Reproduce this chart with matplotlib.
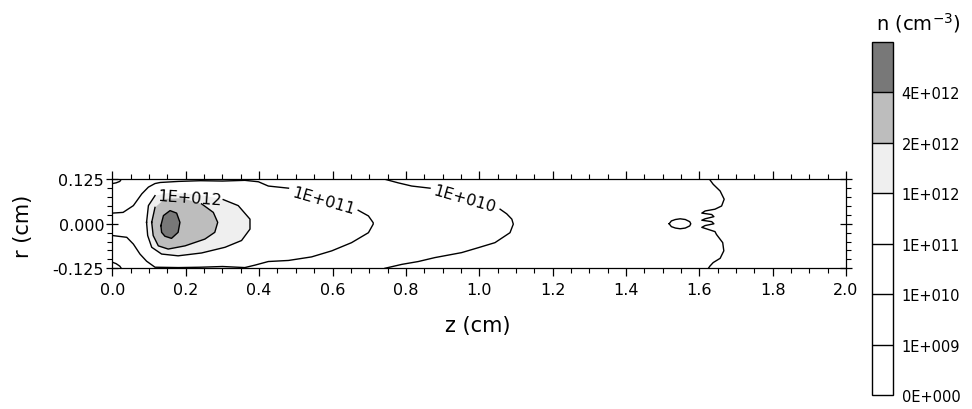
import numpy as np
import matplotlib
matplotlib.use('Agg')
import matplotlib.pyplot as plt
from matplotlib.colors import ListedColormap, BoundaryNorm
from matplotlib.cm import ScalarMappable
from matplotlib.ticker import MultipleLocator, FormatStrFormatter

plt.rcParams['font.family'] = 'DejaVu Sans'
plt.rcParams['axes.unicode_minus'] = False

# Contour lines (z in cm, r in cm)
# 4E+012 core
core_z = [0.132, 0.139, 0.157, 0.175, 0.184, 0.179, 0.161, 0.143, 0.134, 0.132]
core_r = [-0.005, 0.023, 0.037, 0.030, 0.004, -0.024, -0.041, -0.035, -0.024, -0.005]
# 2E+012
c2e12_z = [0.107, 0.116, 0.143, 0.190, 0.243, 0.275, 0.287, 0.279, 0.252,
           0.198, 0.152, 0.125, 0.111, 0.107]
c2e12_r = [0.004, 0.046, 0.070, 0.072, 0.056, 0.032, 0.004, -0.024, -0.043,
           -0.062, -0.071, -0.062, -0.033, 0.004]
# 1E+012
c1e12_z = [0.093, 0.098, 0.116, 0.150, 0.200, 0.250, 0.302, 0.343, 0.375,
           0.375, 0.352, 0.307, 0.243, 0.179, 0.134, 0.107, 0.096, 0.093]
c1e12_r = [0.004, 0.051, 0.079, 0.086, 0.085, 0.079, 0.068, 0.051, 0.013,
           -0.015, -0.047, -0.066, -0.082, -0.090, -0.085, -0.066, -0.033, 0.004]
# 1E+011 (open, nan = label gap)
c1e11_z = [0.0, 0.029, 0.057, 0.080, 0.098, 0.116, 0.130, 0.180, 0.240, 0.300,
           0.361, 0.398, 0.425, 0.480, np.nan, 0.670, 0.698, 0.711, 0.711, 0.698,
           0.652, 0.598, 0.543, 0.480, 0.425, 0.389, 0.361, 0.300, 0.240, 0.180,
           0.116, 0.093, 0.075, 0.057, 0.039, 0.0]
c1e11_r = [0.030, 0.032, 0.051, 0.084, 0.103, 0.113, 0.116, 0.119, 0.121, 0.120,
           0.122, 0.118, 0.106, 0.100, np.nan, 0.038, 0.022, 0.003, -0.001, -0.025,
           -0.053, -0.076, -0.093, -0.103, -0.106, -0.116, -0.123, -0.120, -0.122,
           -0.123, -0.122, -0.105, -0.085, -0.057, -0.038, -0.033]
# 1E+010 (open) plus the two corner arcs
c1e10_z = [0.743, 0.779, 0.816, 0.866, np.nan, 1.057, 1.075, 1.089, 1.093, 1.084,
           1.043, 0.998, 0.952, 0.879, 0.834, 0.789, 0.743, np.nan,
           0.0, 0.010, 0.020, 0.024, np.nan, 0.0, 0.010, 0.020, 0.024]
c1e10_r = [0.125, 0.115, 0.106, 0.100, np.nan, 0.041, 0.028, 0.013, -0.001, -0.025,
           -0.053, -0.067, -0.081, -0.095, -0.106, -0.114, -0.125, np.nan,
           0.113, 0.115, 0.119, 0.125, np.nan, -0.108, -0.112, -0.119, -0.125]
# wavy line near z = 1.63
wave_z = [1.628, 1.638, 1.657, 1.668, 1.661, 1.643, 1.616, 1.607, 1.634, 1.640,
          1.616, 1.607, 1.634, 1.640, 1.616, 1.607, 1.625, 1.643, 1.647, 1.664,
          1.667, 1.657, 1.638, 1.629, 1.625]
wave_r = [0.125, 0.111, 0.092, 0.069, 0.050, 0.041, 0.036, 0.030, 0.026, 0.020,
          0.014, 0.010, 0.006, 0.000, -0.005, -0.010, -0.016, -0.022, -0.030, -0.053,
          -0.076, -0.097, -0.109, -0.119, -0.125]
# small closed loop near z = 1.55
blob_z = [1.518, 1.524, 1.535, 1.548, 1.562, 1.574, 1.577, 1.574, 1.562, 1.548,
          1.535, 1.524, 1.518]
blob_r = [0.0, 0.008, 0.012, 0.014, 0.012, 0.006, 0.0, -0.006, -0.012, -0.014,
          -0.012, -0.008, 0.0]

# contour labels: text, z, r, angle
label_text = ['1E+012', '1E+011', '1E+010']
label_z = [0.211, 0.576, 0.961]
label_r = [0.072, 0.066, 0.072]
label_rot = [-4, -16, -16]

# colour scale
levels = [0, 1e9, 1e10, 1e11, 1e12, 2e12, 4e12, 8e12]
level_labels = ['0E+000', '1E+009', '1E+010', '1E+011', '1E+012', '2E+012', '4E+012']
band_colors = ['white', 'white', 'white', 'white', '#efefef', '#bdbdbd', '#787878']


def hide_under_label(z, r, z0, z1, rmin):
    z = np.array(z, dtype=float)
    r = np.array(r, dtype=float)
    mask = (z > z0) & (z < z1) & (r > rmin)
    r[mask] = np.nan
    return z, r


fig = plt.figure(figsize=(9.72, 4.10), dpi=100)
ax = fig.add_axes([0.1157, 0.3432, 0.7546, 0.2171])

# filled bands
ax.fill(c1e12_z, c1e12_r, color=band_colors[4], lw=0, zorder=1)
ax.fill(c2e12_z, c2e12_r, color=band_colors[5], lw=0, zorder=1)
ax.fill(core_z, core_r, color=band_colors[6], lw=0, zorder=1)

lw = 1.0
z, r = hide_under_label(c1e12_z, c1e12_r, 0.118, 0.30, 0.03)
ax.plot(z, r, color='black', lw=lw, zorder=2)
z, r = hide_under_label(c2e12_z, c2e12_r, 0.125, 0.235, 0.05)
ax.plot(z, r, color='black', lw=lw, zorder=2)
ax.plot(core_z, core_r, color='black', lw=lw, zorder=2)
ax.plot(c1e11_z, c1e11_r, color='black', lw=lw, zorder=2)
ax.plot(c1e10_z, c1e10_r, color='black', lw=lw, zorder=2)
ax.plot(wave_z, wave_r, color='black', lw=lw, zorder=2)
ax.plot(blob_z, blob_r, color='black', lw=lw, zorder=2)

for txt, lz, lr, rot in zip(label_text, label_z, label_r, label_rot):
    ax.text(lz, lr, txt, fontsize=11.5, rotation=rot, ha='center', va='center',
            rotation_mode='anchor', zorder=3)

ax.set_xlim(0, 2.0)
ax.set_ylim(-0.125, 0.125)
ax.xaxis.set_major_locator(MultipleLocator(0.2))
ax.xaxis.set_minor_locator(MultipleLocator(0.05))
ax.xaxis.set_major_formatter(FormatStrFormatter('%.1f'))
ax.set_yticks([-0.125, 0.0, 0.125])
ax.yaxis.set_minor_locator(MultipleLocator(0.025))
ax.yaxis.set_major_formatter(FormatStrFormatter('%.3f'))
ax.tick_params(axis='x', which='major', direction='out', length=6, width=0.9,
               top=True, labelsize=11.5, pad=4)
ax.tick_params(axis='x', which='minor', direction='out', length=3.5, width=0.8, top=True)
ax.tick_params(axis='y', which='major', direction='inout', length=8, width=0.9,
               right=True, labelsize=11.5, pad=2)
ax.tick_params(axis='y', which='minor', direction='out', length=3.5, width=0.8, right=True)
for sp in ax.spines.values():
    sp.set_linewidth(0.9)

ax.set_xlabel('z (cm)', fontsize=15)
ax.xaxis.set_label_coords(0.498, -0.52)
ax.set_ylabel('r (cm)', fontsize=15)
ax.yaxis.set_label_coords(-0.108, 0.487)

# colour bar
cax = fig.add_axes([0.8976, 0.034, 0.0216, 0.861])
cmap = ListedColormap(band_colors)
norm = BoundaryNorm(levels, cmap.N)
cb = fig.colorbar(ScalarMappable(norm=norm, cmap=cmap), cax=cax, spacing='uniform',
                  ticks=levels[:-1], drawedges=True)
cb.set_ticklabels(level_labels)
cb.ax.minorticks_off()
cb.ax.tick_params(length=0, labelsize=10.5, pad=6)
cb.outline.set_linewidth(1.0)
cb.dividers.set_linewidth(1.0)
fig.text(0.945, 0.945, 'n (cm$^{-3}$)', fontsize=14, ha='center', va='center')

fig.savefig('out.png', dpi=100)
